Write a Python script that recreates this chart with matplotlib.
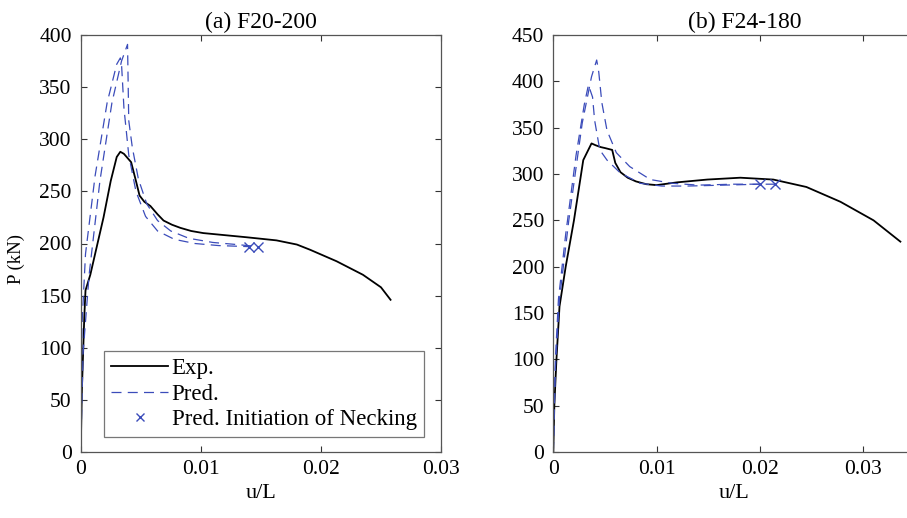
import matplotlib
matplotlib.use("Agg")
import matplotlib.pyplot as plt

plt.rcParams['font.family'] = ['Liberation Serif', 'DejaVu Serif']

# ---------------- data: panel (a) F20-200 ----------------
a_exp_x = [0, 0.0001, 0.0003, 0.0004, 0.0008, 0.0013, 0.0019, 0.0025, 0.0030, 0.0033,
           0.0036, 0.0042, 0.0046, 0.0049, 0.0053, 0.0058, 0.0064, 0.0069, 0.0076, 0.0083,
           0.0092, 0.0102, 0.0120, 0.0138, 0.0163, 0.0180, 0.0191, 0.0213, 0.0235, 0.0250, 0.0258]
a_exp_y = [0, 60, 130, 155, 170, 195, 225, 260, 283, 288,
           286, 278, 260, 246, 240, 236, 228, 222, 218, 215,
           212, 210, 208, 206, 203, 199, 194, 183, 170, 158, 146]

a_p1_x = [0, 0.0001, 0.0004, 0.0012, 0.0022, 0.0030, 0.0033, 0.0034, 0.0036, 0.0040,
          0.0046, 0.0054, 0.0064, 0.0078, 0.0095, 0.0115, 0.0140]
a_p1_y = [0, 120, 190, 265, 335, 372, 378, 372, 330, 285,
          250, 226, 212, 204, 200, 198, 197]
a_p2_x = [0, 0.0002, 0.0007, 0.0016, 0.0026, 0.0034, 0.0039, 0.0040, 0.0043, 0.0048,
          0.0055, 0.0064, 0.0075, 0.0090, 0.0110, 0.0130, 0.0148]
a_p2_y = [0, 95, 170, 260, 335, 375, 391, 318, 292, 262,
          238, 222, 212, 205, 201, 199, 197]
a_neck_x = [0.0140, 0.0148]
a_neck_y = [197, 197]

# ---------------- data: panel (b) F24-180 ----------------
b_exp_x = [0, 0.0001, 0.0003, 0.0006, 0.0012, 0.0020, 0.0029, 0.0037, 0.0041, 0.0046,
           0.0050, 0.0057, 0.0060, 0.0065, 0.0072, 0.0080, 0.0090, 0.0100, 0.0120, 0.0149,
           0.0181, 0.0213, 0.0245, 0.0278, 0.0310, 0.0336]
b_exp_y = [0, 50, 99, 157, 200, 250, 315, 333, 331, 329,
           328, 326, 312, 302, 296, 292, 289, 288, 291, 294,
           296, 294, 286, 270, 250, 227]

b_p1_x = [0, 0.0002, 0.0006, 0.0015, 0.0028, 0.0037, 0.0042, 0.0044, 0.0047, 0.0052,
          0.0061, 0.0074, 0.0094, 0.0115, 0.0140, 0.0175, 0.0215]
b_p1_y = [0, 90, 165, 250, 355, 405, 423, 410, 377, 347,
          323, 308, 294, 290, 288, 289, 289]
b_p2_x = [0, 0.0002, 0.0005, 0.0012, 0.0022, 0.0030, 0.0034, 0.0038, 0.0040, 0.0045,
          0.0052, 0.0065, 0.0084, 0.0105, 0.0130, 0.0165, 0.0200]
b_p2_y = [0, 100, 165, 235, 320, 375, 396, 383, 358, 326,
          315, 301, 290, 287, 287, 288, 289]
b_neck_x = [0.0200, 0.0215]
b_neck_y = [289, 289]

a_xticks = [0, 0.01, 0.02, 0.03]
a_yticks = [0, 50, 100, 150, 200, 250, 300, 350, 400]
b_xticks = [0, 0.01, 0.02, 0.03]
b_yticks = [0, 50, 100, 150, 200, 250, 300, 350, 400, 450]

BLUE = '#3b4cba'
FS_TICK = 15.5
FS_LAB = 16
FS_TITLE = 17
FS_LEG = 16.5

W, H = 907, 518
fig = plt.figure(figsize=(W / 100, H / 100), dpi=100)

def px_axes(l, r, t, b):
    return fig.add_axes([l / W, 1 - b / H, (r - l) / W, (b - t) / H])

axA = px_axes(80.7, 441.0, 35, 452)
axB = px_axes(553.3, 553.3 + 0.035 * 10330, 35, 452)

def style(ax, xlim, ylim, xt, yt):
    ax.set_xlim(*xlim)
    ax.set_ylim(*ylim)
    ax.set_xticks(xt)
    ax.set_xticklabels([('%g' % v) for v in xt])
    ax.set_yticks(yt)
    ax.tick_params(direction='in', top=True, right=True, length=4, width=0.8,
                   color='#333333', labelsize=FS_TICK)
    ax.tick_params(axis='y', pad=6.5)
    ax.tick_params(axis='x', pad=6)
    for s in ax.spines.values():
        s.set_color('#555555')
        s.set_linewidth(0.9)
    ax.set_xlabel('u/L', fontsize=FS_LAB, labelpad=3)

dash = (0, (8, 5))

# panel (a)
axA.plot(a_exp_x, a_exp_y, color='black', lw=1.3, label='Exp.')
axA.plot(a_p1_x, a_p1_y, color=BLUE, lw=0.9, linestyle=dash, label='Pred.')
axA.plot(a_p2_x, a_p2_y, color=BLUE, lw=0.9, linestyle=dash)
axA.plot(a_neck_x, a_neck_y, linestyle='none', marker='x', color=BLUE, ms=7, mew=1.0,
         label='Pred. Initiation of Necking')
style(axA, (0, 0.03), (0, 400), a_xticks, a_yticks)
axA.set_ylabel('P (kN)', fontsize=13.5)
axA.yaxis.set_label_coords(25 / W, 0.5, transform=fig.transFigure)
fig.text(260.9 / W, 1 - 28 / H, '(a) F20-200', fontsize=FS_TITLE, ha='center', va='baseline')
leg = axA.legend(loc='lower left', bbox_to_anchor=(0.065, 0.037), borderaxespad=0,
                 fontsize=FS_LEG, frameon=True, fancybox=False, handlelength=2.5,
                 handletextpad=0.15, labelspacing=0.18, borderpad=0.3, markerscale=0.85)
leg.get_frame().set_edgecolor('#555555')
leg.get_frame().set_linewidth(0.9)

# panel (b)
axB.plot(b_exp_x, b_exp_y, color='black', lw=1.3)
axB.plot(b_p1_x, b_p1_y, color=BLUE, lw=0.9, linestyle=dash)
axB.plot(b_p2_x, b_p2_y, color=BLUE, lw=0.9, linestyle=dash)
axB.plot(b_neck_x, b_neck_y, linestyle='none', marker='x', color=BLUE, ms=7, mew=1.0)
style(axB, (0, 0.035), (0, 450), b_xticks, b_yticks)
fig.text(745 / W, 1 - 28 / H, '(b) F24-180', fontsize=FS_TITLE, ha='center', va='baseline')

fig.savefig('out.png', dpi=100)
